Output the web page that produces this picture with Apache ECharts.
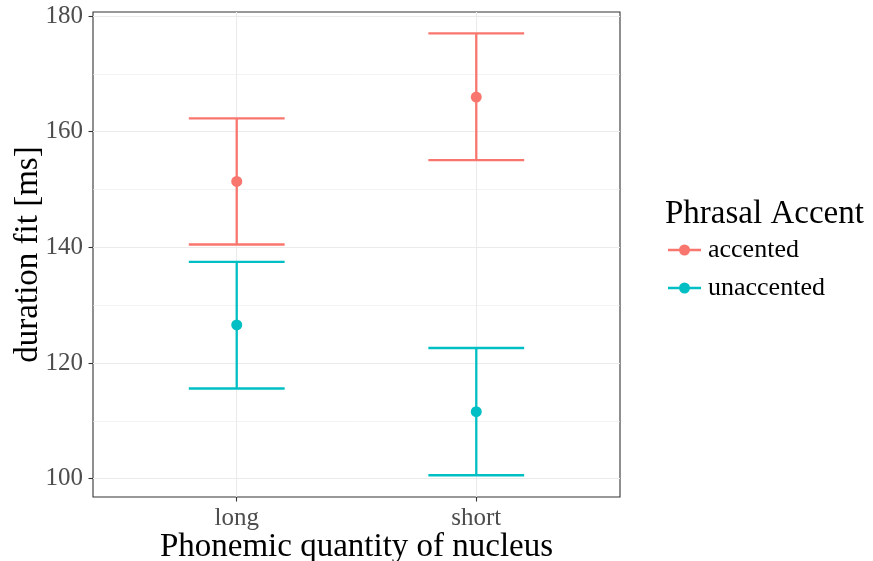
<!DOCTYPE html>
<html>
<head>
<meta charset="utf-8">
<script src="https://cdn.jsdelivr.net/npm/echarts@6/dist/echarts.min.js"></script>
<style>html,body{margin:0;padding:0;background:#fff}#c{width:873px;height:561px}</style>
</head>
<body>
<div id="c"></div>
<script>
const categories = ['long', 'short'];
const groups = ['accented', 'unaccented'];
const accentedFit = [151.4, 166.0];
const accentedLower = [140.5, 155.1];
const accentedUpper = [162.3, 177.0];
const unaccentedFit = [126.6, 111.6];
const unaccentedLower = [115.6, 100.6];
const unaccentedUpper = [137.5, 122.6];
const yTicks = [100, 120, 140, 160, 180];
const yMinorTicks = [110, 130, 150, 170];
const colors = ['#F8766D', '#00BFC4'];

const FONT = 'Liberation Serif';
const chart = echarts.init(document.getElementById('c'), null, {renderer: 'canvas'});

function errSeries(name, lo, hi, color) {
  return {
    name: name, type: 'custom', z: 2,
    data: categories.map((c, i) => [i + 1, lo[i], hi[i]]),
    encode: {x: 0, y: [1, 2]},
    renderItem: function (params, api) {
      const x = api.value(0), l = api.value(1), h = api.value(2);
      const pL = api.coord([x, l]), pH = api.coord([x, h]);
      const xl = api.coord([x - 0.2, l])[0], xr = api.coord([x + 0.2, l])[0];
      const style = {stroke: color, lineWidth: 2.3, fill: null};
      return {type: 'group', children: [
        {type: 'line', shape: {x1: pL[0], y1: pL[1], x2: pH[0], y2: pH[1]}, style: style},
        {type: 'line', shape: {x1: xl, y1: pH[1], x2: xr, y2: pH[1]}, style: style},
        {type: 'line', shape: {x1: xl, y1: pL[1], x2: xr, y2: pL[1]}, style: style}
      ]};
    },
    itemStyle: {color: color}
  };
}
function ptSeries(name, fit, color) {
  return {
    name: name, type: 'scatter', z: 3, symbol: 'circle', symbolSize: 11,
    data: categories.map((c, i) => [i + 1, fit[i]]),
    itemStyle: {color: color, opacity: 1},
    emphasis: {disabled: true}
  };
}
const legendIcon = 'path://M0,4.35h33v2.3h-33z M11,5.5a5.5,5.5 0 1,1 11,0a5.5,5.5 0 1,1 -11,0z';

const yMin = 96.84, yMax = 180.7;
chart.setOption({
  animation: false,
  backgroundColor: '#ffffff',
  grid: {left: 93, right: 253, top: 12, bottom: 64, show: true, borderColor: '#333333', borderWidth: 1.1,
    containLabel: false, outerBoundsMode: 'none'},
  title: {text: 'Phrasal Accent', left: 660, top: 193, textStyle: {fontFamily: FONT, fontSize: 33, fontWeight: 'normal', color: '#000'}},
  legend: {
    orient: 'vertical', left: 663, top: 232, itemGap: 12, itemWidth: 33, itemHeight: 11,
    data: groups.map((g, i) => ({name: g, icon: legendIcon, itemStyle: {color: colors[i]}})),
    textStyle: {fontFamily: FONT, fontSize: 26, lineHeight: 26, color: '#000', padding: [0, 0, 0, 2]},
    selectedMode: false
  },
  xAxis: {
    type: 'value', min: 0.4, max: 2.6,
    name: 'Phonemic quantity of nucleus', nameLocation: 'middle', nameGap: 34, nameMoveOverlap: false,
    nameTextStyle: {fontFamily: FONT, fontSize: 33, color: '#000'},
    axisLine: {show: false},
    axisTick: {show: true, customValues: [1, 2], length: 4.5, lineStyle: {color: '#333', width: 1.1}},
    axisLabel: {customValues: [1, 2], margin: 9, fontFamily: FONT, fontSize: 25, color: '#4D4D4D',
      formatter: v => categories[Math.round(v) - 1] || ''},
    splitLine: {show: true, lineStyle: {color: '#EBEBEB', width: 1.1}}
  },
  yAxis: [{
    type: 'value', min: yMin, max: yMax,
    name: 'duration fit [ms]', nameLocation: 'middle', nameGap: 48, nameMoveOverlap: false,
    nameTextStyle: {fontFamily: FONT, fontSize: 33, color: '#000'},
    axisLine: {show: false},
    axisTick: {show: true, customValues: yTicks, length: 4.5, lineStyle: {color: '#333', width: 1.1}},
    axisLabel: {customValues: yTicks, margin: 10, fontFamily: FONT, fontSize: 25, color: '#4D4D4D'},
    splitLine: {show: true, lineStyle: {color: '#EBEBEB', width: 1.1}}
  }, {
    type: 'value', min: yMin, max: yMax, position: 'left',
    axisLine: {show: false},
    axisTick: {show: false, length: 0, customValues: yMinorTicks},
    axisLabel: {show: false, customValues: yMinorTicks},
    splitLine: {show: true, lineStyle: {color: '#EBEBEB', width: 0.6}}
  }],
  series: [
    errSeries(groups[0], accentedLower, accentedUpper, colors[0]),
    errSeries(groups[1], unaccentedLower, unaccentedUpper, colors[1]),
    ptSeries(groups[0], accentedFit, colors[0]),
    ptSeries(groups[1], unaccentedFit, colors[1])
  ]
});
</script>
</body>
</html>
